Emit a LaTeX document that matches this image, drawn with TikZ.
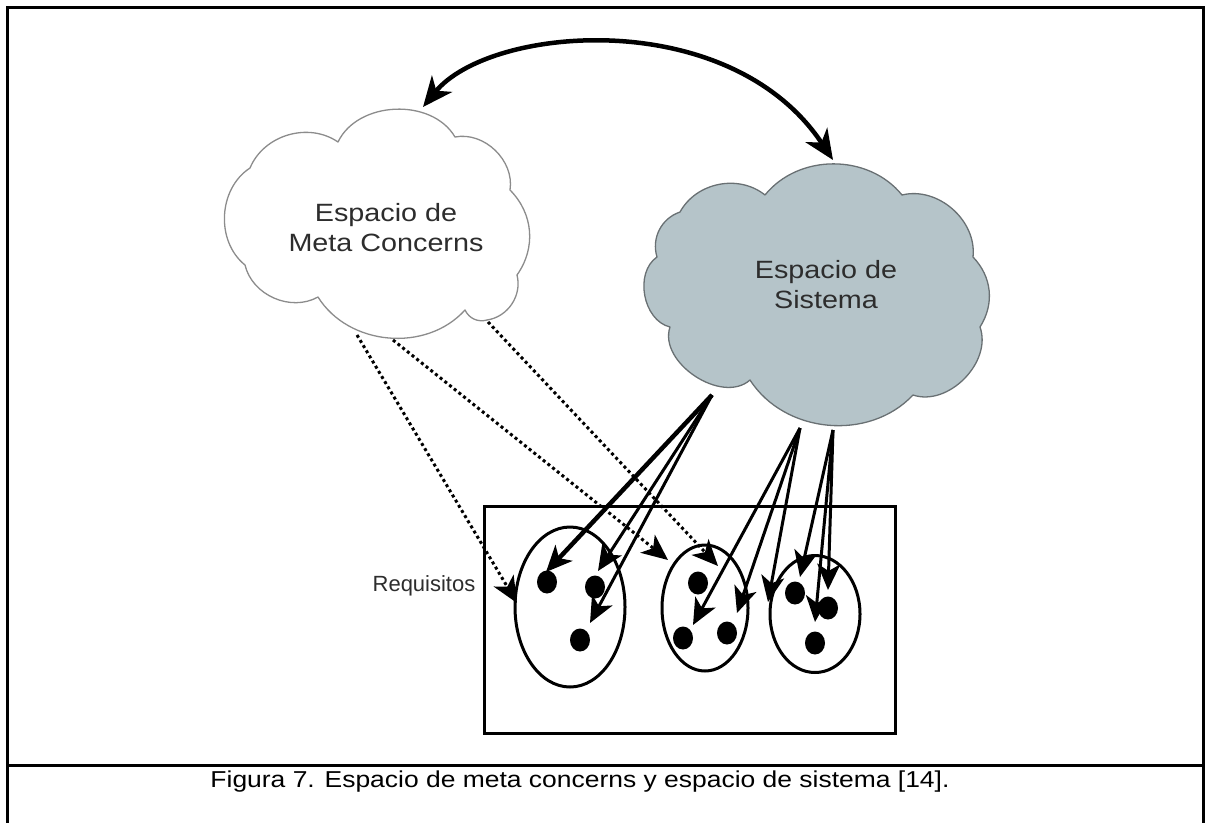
\documentclass[tikz,border=0pt]{standalone}
\usepackage{fontspec}
\setmainfont{Liberation Sans}
\usetikzlibrary{arrows.meta,shapes.geometric}
\definecolor{sysfill}{RGB}{181,196,201}
\definecolor{sysedge}{RGB}{105,112,115}
\definecolor{metaedge}{RGB}{140,140,140}
\definecolor{txt}{RGB}{45,45,45}
\tikzset{
  frameline/.style={line width=3pt},
  cloudedge/.style={line width=1.3pt, line join=round},
  cloudtext/.style={text=txt, align=center, inner sep=0pt,
    font=\fontsize{25}{30}\selectfont, xscale=1.15},
  head/.style={-{Stealth[length=26pt,width=23pt,inset=7pt]}},
  link/.style={head, line width=3pt},
  boldlink/.style={head, line width=4.5pt},
  dottedlink/.style={head, line width=3pt, dash pattern=on 3pt off 3pt},
  swap/.style={{Stealth[length=30pt,width=26pt,inset=9pt]}-{Stealth[length=30pt,width=26pt,inset=9pt]}, line width=4.5pt},
  group/.style={ellipse, draw, line width=3pt, inner sep=0pt},
  dot/.style={ellipse, fill=black, inner sep=0pt, minimum width=20pt, minimum height=23pt},
}
\begin{document}
\begin{tikzpicture}[x=1pt, y=-1pt]
\useasboundingbox (0,0) rectangle (1206,822);

% outer frame and caption row
\draw[frameline] (7,826) -- (7,7) -- (1203,7) -- (1203,826);
\draw[frameline] (7,765) -- (1203,765);
\node[inner sep=0pt, font=\fontsize{23}{26}\selectfont, xscale=1.15] (caption) at (580,782)
  {Figura 7. Espacio de meta concerns y espacio de sistema [14].};

% meta concerns cloud
\draw[cloudedge, draw=metaedge, fill=white]
  (250,168) to[bend left=51] (338,142) to[bend left=62] (455,137)
  to[bend left=55] (510,190) to[bend left=40] (517,275)
  to[bend left=48] (487,320) to[bend left=40] (465,310)
  to[bend left=53] (318,297) to[bend left=53] (245,265)
  to[bend left=54] (250,168) -- cycle;
\node[cloudtext] (meta) at (386,228) {Espacio de\\Meta Concerns};

% system cloud
\draw[cloudedge, draw=sysedge, fill=sysfill]
  (680,212) to[bend left=50] (765,195) to[bend left=51] (902,195)
  to[bend left=55] (973,257) to[bend left=38] (980,327)
  to[bend left=64] (913,395) to[bend left=52] (750,380)
  to[bend left=75] (670,327) to[bend left=66] (657,257)
  to[bend left=44] (680,212) -- cycle;
\node[cloudtext] (sys) at (826,285) {Espacio de\\Sistema};

% attachment points on the clouds
\coordinate (mtop) at (423,107);
\coordinate (stop) at (833,160);
\coordinate (mA) at (357,335);
\coordinate (mB) at (393,340);
\coordinate (mC) at (488,322);
\coordinate (g1) at (712,395);
\coordinate (g2) at (800,428);
\coordinate (g3) at (833,430);

% requirements box, groups and dots
\node[draw, line width=3pt, minimum width=411pt, minimum height=227pt, inner sep=0pt] (req) at (689.5,619.5) {};
\node[text=txt, inner sep=0pt, font=\fontsize{22}{25}\selectfont] (reqlabel) at (424,586) {Requisitos};
\node[group, minimum width=110pt, minimum height=160pt] (e1) at (570,607) {};
\node[group, minimum width=86pt, minimum height=126pt] (e2) at (705,608) {};
\node[group, minimum width=90pt, minimum height=117pt] (e3) at (815,614) {};

\node[dot] (d11) at (547,582) {};
\node[dot] (d12) at (595,587) {};
\node[dot] (d13) at (580,640) {};
\node[dot] (d21) at (698,583) {};
\node[dot] (d22) at (683,638) {};
\node[dot] (d23) at (727,633) {};
\node[dot] (d31) at (795,593) {};
\node[dot] (d32) at (828,608) {};
\node[dot] (d33) at (815,643) {};

% arrow ends inside the groups
\coordinate (t11) at (546,572);
\coordinate (t12) at (598,571);
\coordinate (t13) at (590,623);
\coordinate (t21) at (693,625);
\coordinate (t22) at (737,613);
\coordinate (t23) at (768,602);
\coordinate (t31) at (800,577);
\coordinate (t32) at (828,590);
\coordinate (t33) at (815,622);
\coordinate (tA) at (517,603);
\coordinate (tB) at (668,560);
\coordinate (tC) at (718,566);

% meta concerns to requirements
\draw[dottedlink] (mA) -- (tA);
\draw[dottedlink] (mB) -- (tB);
\draw[dottedlink] (mC) -- (tC);

% system to requirements
\draw[boldlink] (g1) -- (t11);
\draw[link] (g1) -- (t12);
\draw[link] (g1) -- (t13);
\draw[link] (g2) -- (t21);
\draw[link] (g2) -- (t22);
\draw[link] (g2) -- (t23);
\draw[link] (g3) -- (t31);
\draw[link] (g3) -- (t32);
\draw[link] (g3) -- (t33);

% relation between the two spaces
\draw[swap] (mtop) .. controls (490,25) and (730,5) .. (stop);
\end{tikzpicture}
\end{document}
